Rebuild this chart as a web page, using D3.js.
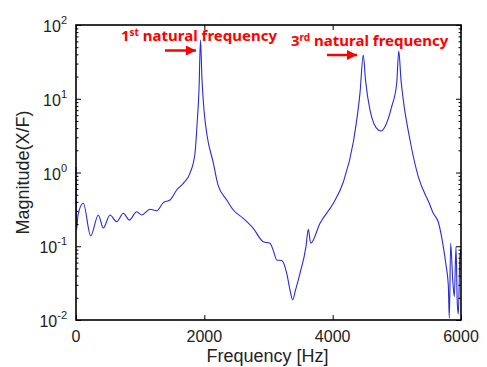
<!DOCTYPE html>
<html>
<head>
<meta charset="utf-8">
<script src="https://cdn.jsdelivr.net/npm/d3@7"></script>
<style>
  body { margin: 0; background: #fff; }
  svg { display: block; }
  .tick-lbl { font-family: "Liberation Sans", Arial, sans-serif; font-size: 16px; fill: #222; }
  .ax-lbl { font-family: "Liberation Sans", Arial, sans-serif; font-size: 18px; fill: #222; }
  .note { font-family: "Noto Sans", "Open Sans", sans-serif; font-weight: bold; font-size: 15px; fill: #f00; }
</style>
</head>
<body>
<svg id="chart" width="487" height="367"></svg>
<script>
// ---------- data ----------
const freq = [0, 8, 31, 114, 229, 348, 425, 530, 634, 737, 831, 946, 1024, 1153, 1258, 1360, 1465,
  1569, 1672, 1777, 1855, 1886, 1917, 1940, 1964, 1995, 2042, 2140, 2213, 2349, 2451, 2607, 2763,
  2919, 3023, 3080, 3128, 3206, 3284, 3335, 3377, 3421, 3491, 3584, 3620, 3658, 3803, 4010, 4166, 4322,
  4426, 4477, 4512, 4582, 4711, 4753, 4815, 4920, 4998, 5030, 5065, 5101, 5205, 5334, 5506, 5568,
  5646, 5724, 5766, 5802, 5818, 5839, 5871, 5896, 5922, 5942, 5958, 5984, 6000];
const mag = [1.19, 0.166, 0.265, 0.382, 0.138, 0.265, 0.177, 0.265, 0.215, 0.280, 0.227, 0.294, 0.265,
  0.317, 0.303, 0.390, 0.424, 0.579, 0.714, 0.98, 1.84, 4.4, 13.2, 62.7, 17.9, 7.0, 3.2, 1.35, 0.678,
  0.424, 0.310, 0.239, 0.175, 0.115, 0.110, 0.085, 0.0652, 0.0640, 0.043, 0.0255, 0.0187, 0.0255, 0.043,
  0.0986, 0.170, 0.110, 0.205, 0.382, 0.743, 2.59, 12.0, 39.2, 17.9, 7.03, 3.77, 3.66, 4.18, 7.80,
  16.2, 44.4, 17.9, 9.6, 2.76, 0.877, 0.382, 0.280, 0.213, 0.0986, 0.0557, 0.0299, 0.0106, 0.110,
  0.0348, 0.0207, 0.0986, 0.017, 0.012, 0.076, 0.088];

const xTicks = [0, 2000, 4000, 6000];
const yDecades = [-2, -1, 0, 1, 2];

const notes = [
  { num: '1', sup: 'st', rest: ' natural frequency', x: 121, y: 41, arrow: [165, 196, 50.5] },
  { num: '3', sup: 'rd', rest: ' natural frequency', x: 291, y: 46, arrow: [327, 357, 55] }
];

// ---------- layout ----------
const svg = d3.select('#chart');
const L = 76, R = 461, T = 25, B = 320;

const x = d3.scaleLinear().domain([0, 6000]).range([L, R]);
const y = d3.scaleLog().domain([0.01, 100]).range([B, T]);

// curve
const pts = freq.map((f, i) => ({ f, m: mag[i] }));
svg.append('path')
  .datum(pts)
  .attr('fill', 'none')
  .attr('stroke', '#2a2ad8')
  .attr('stroke-width', 1.1)
  .attr('d', d3.line().x(d => x(d.f)).y(d => y(d.m)).curve(d3.curveMonotoneX));

// ---------- axes (MATLAB style, inward ticks on all sides) ----------
const minor = [];
yDecades.slice(0, -1).forEach(e => {
  for (let k = 2; k <= 9; k++) minor.push(k * Math.pow(10, e));
});

const axL = d3.axisLeft(y).tickValues(yDecades.map(e => Math.pow(10, e))).tickSizeInner(-5).tickSizeOuter(0).tickFormat('');
const axLm = d3.axisLeft(y).tickValues(minor).tickSizeInner(-2.5).tickSizeOuter(0).tickFormat('');
const axR = d3.axisRight(y).tickValues(yDecades.map(e => Math.pow(10, e))).tickSizeInner(-5).tickSizeOuter(0).tickFormat('');
const axRm = d3.axisRight(y).tickValues(minor).tickSizeInner(-2.5).tickSizeOuter(0).tickFormat('');
const axB = d3.axisBottom(x).tickValues(xTicks).tickSizeInner(-5).tickSizeOuter(0).tickFormat('');
const axT = d3.axisTop(x).tickValues(xTicks).tickSizeInner(-5).tickSizeOuter(0).tickFormat('');

[[axL, `translate(${L},0)`], [axLm, `translate(${L},0)`], [axR, `translate(${R},0)`], [axRm, `translate(${R},0)`],
 [axB, `translate(0,${B})`], [axT, `translate(0,${T})`]].forEach(([ax, tr]) => {
  const g = svg.append('g').attr('transform', tr).call(ax);
  g.select('.domain').remove();
  g.selectAll('line').attr('stroke', '#000').attr('stroke-width', 1);
});

// frame
svg.append('rect')
  .attr('x', L).attr('y', T).attr('width', R - L).attr('height', B - T)
  .attr('fill', 'none').attr('stroke', '#000').attr('stroke-width', 1.6);

// y tick labels 10^n
yDecades.forEach(e => {
  const t = svg.append('text').attr('class', 'tick-lbl')
    .attr('x', 67).attr('y', y(Math.pow(10, e)) + 7).attr('text-anchor', 'end');
  t.append('tspan').text('10');
  t.append('tspan').attr('dy', -8).attr('font-size', 11).text(e);
});

// x tick labels
svg.selectAll('text.xl').data(xTicks).join('text')
  .attr('class', 'tick-lbl xl')
  .attr('x', d => x(d)).attr('y', 342).attr('text-anchor', 'middle')
  .text(d => d);

// axis titles
svg.append('text').attr('class', 'ax-lbl')
  .attr('x', (L + R) / 2 - 1).attr('y', 362).attr('text-anchor', 'middle')
  .text('Frequency [Hz]');
svg.append('text').attr('class', 'ax-lbl')
  .attr('transform', `translate(29,${(T + B) / 2}) rotate(-90)`).attr('text-anchor', 'middle')
  .text('Magnitude(X/F)');

// ---------- annotations ----------
const defs = svg.append('defs');
defs.append('marker').attr('id', 'ah')
  .attr('viewBox', '0 0 10 10').attr('refX', 10).attr('refY', 5)
  .attr('markerWidth', 4).attr('markerHeight', 4).attr('orient', 'auto')
  .attr('markerUnits', 'strokeWidth')
  .append('path').attr('d', 'M0,0 L10,5 L0,10 z').attr('fill', '#f00');

notes.forEach(n => {
  const t = svg.append('text').attr('class', 'note').attr('x', n.x).attr('y', n.y);
  t.append('tspan').text(n.num);
  t.append('tspan').attr('dy', -5).attr('font-size', 10).text(n.sup);
  t.append('tspan').attr('dy', 5).text(n.rest);
  svg.append('line')
    .attr('x1', n.arrow[0]).attr('x2', n.arrow[1])
    .attr('y1', n.arrow[2]).attr('y2', n.arrow[2])
    .attr('stroke', '#f00').attr('stroke-width', 2.5)
    .attr('marker-end', 'url(#ah)');
});
</script>
</body>
</html>
